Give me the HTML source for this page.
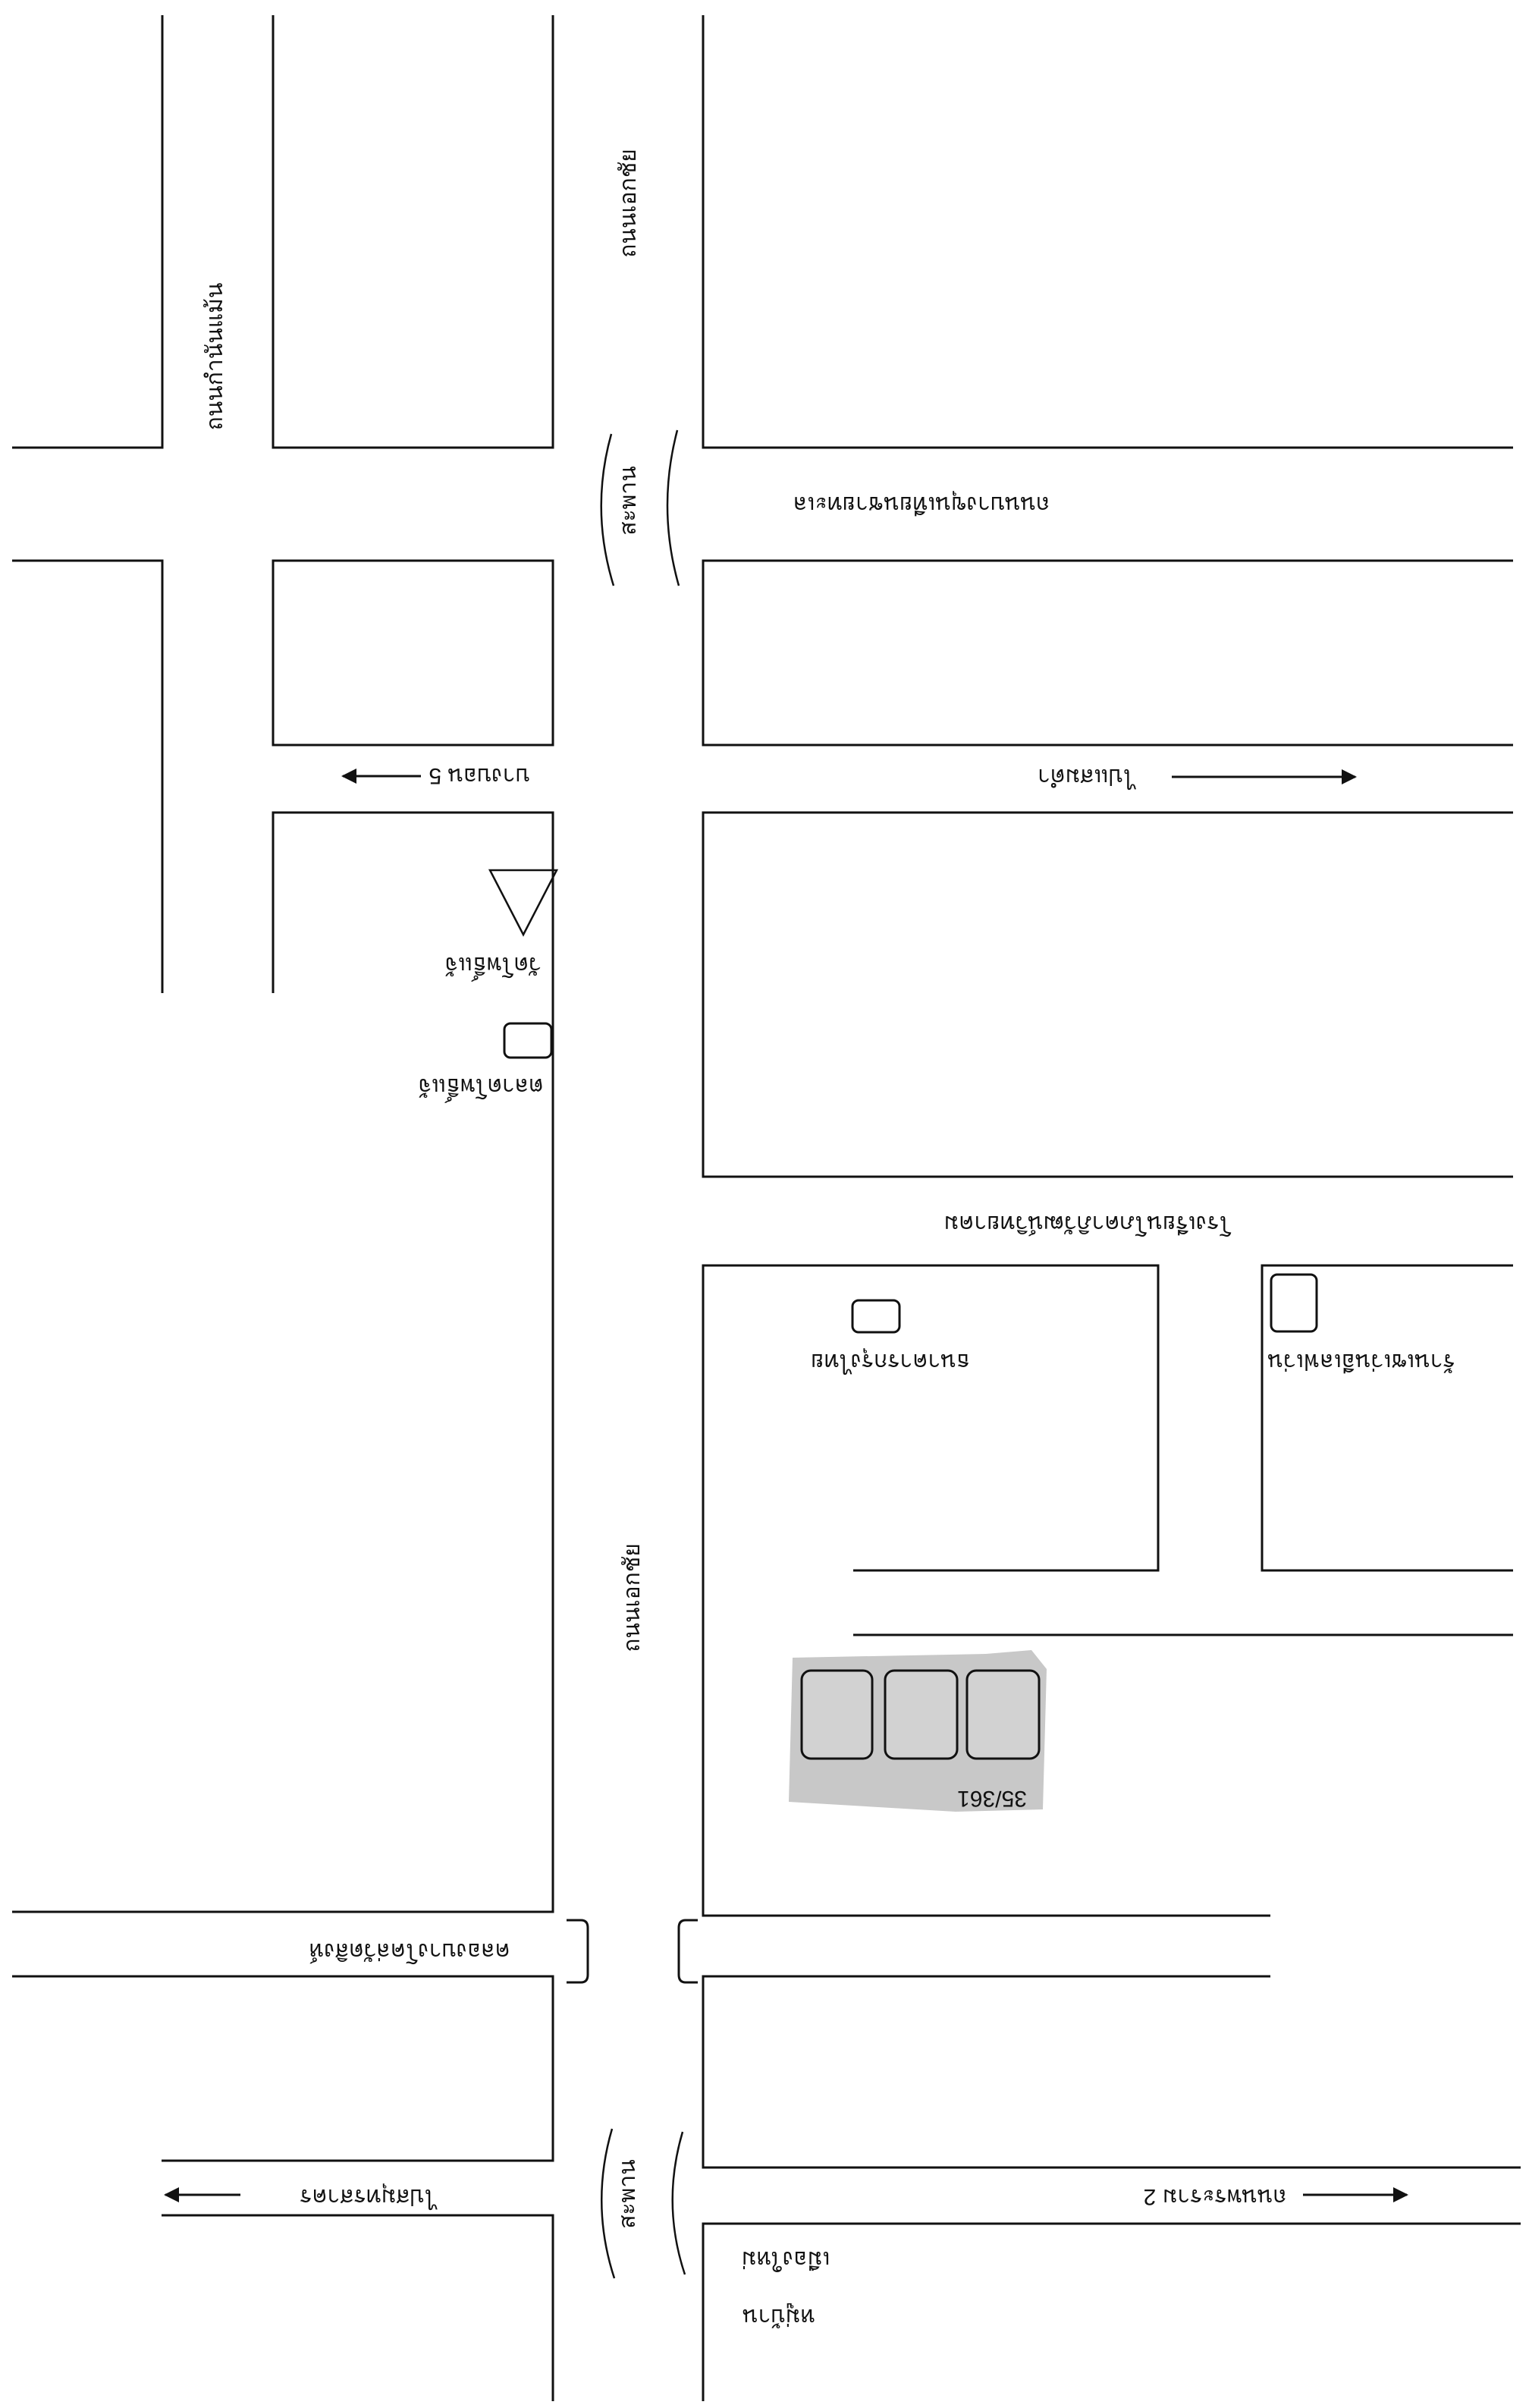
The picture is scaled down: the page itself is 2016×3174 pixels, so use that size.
<!DOCTYPE html>
<html><head><meta charset="utf-8"><style>
html,body{margin:0;padding:0;background:#fff;}
svg{display:block;}
text{font-family:"Liberation Sans","Noto Sans CJK SC",sans-serif;font-size:30px;fill:#111;}
</style></head><body>
<svg width="2016" height="3174" viewBox="0 0 2016 3174" xmlns="http://www.w3.org/2000/svg">
<defs>
<marker id="ah2" viewBox="0 0 10 10" markerWidth="22" markerHeight="20" refX="9" refY="5" orient="auto" markerUnits="userSpaceOnUse"><path d="M0,0 L10,5 L0,10 z" fill="#111"/></marker></defs>
<g stroke="#111" stroke-width="3" fill="none">
<polyline points="214,20 214,590 16,590"/>
<polyline points="16,739 214,739 214,1309"/>
<polyline points="360,20 360,590 729,590 729,20"/>
<rect x="360" y="739" width="369" height="243"/>
<polyline points="360,1309 360,1071 729,1071 729,2520 16,2520"/>
<polyline points="16,2605 729,2605 729,2848 213,2848"/>
<polyline points="213,2920 729,2920 729,3165"/>
<polyline points="927,20 927,590 1995,590"/>
<polyline points="1995,739 927,739 927,982 1995,982"/>
<polyline points="1995,1071 927,1071 927,1551 1995,1551"/>
<polyline points="1125,2070 1527,2070 1527,1668 927,1668 927,2525 1675,2525"/>
<polyline points="1995,1668 1664,1668 1664,2070 1995,2070"/>
<line x1="1125" y1="2155" x2="1995" y2="2155"/>
<polyline points="1675,2605 927,2605 927,2857 2005,2857"/>
<polyline points="2005,2931 927,2931 927,3165"/>
<path d="M806,572 Q778,672 809,772" stroke-width="2.5"/>
<path d="M893,567 Q866,670 895,772" stroke-width="2.5"/>
<path d="M807,2806 Q778,2905 810,3003" stroke-width="2.5"/>
<path d="M900,2810 Q872,2905 903,2998" stroke-width="2.5"/>
<path d="M747,2531 L766,2531 Q775,2531 775,2541 L775,2603 Q775,2613 766,2613 L747,2613"/>
<path d="M920,2531 L904,2531 Q895,2531 895,2541 L895,2603 Q895,2613 904,2613 L920,2613"/>
<path d="M646,1147 L734,1147 L690,1232 Z" stroke-width="2.5"/>
<rect x="665" y="1349" width="62" height="45" rx="8"/>
<rect x="1124" y="1714" width="62" height="42" rx="8"/>
<rect x="1676" y="1680" width="60" height="75" rx="8"/>
<line x1="1545" y1="1024" x2="1787" y2="1024" marker-end="url(#ah2)"/>
<line x1="555" y1="1023" x2="452" y2="1023" marker-end="url(#ah2)"/>
<line x1="317" y1="2893" x2="218" y2="2893" marker-end="url(#ah2)"/>
<line x1="1718" y1="2893" x2="1855" y2="2893" marker-end="url(#ah2)"/>
</g>
<path d="M1045,2185 L1300,2180 L1360,2175 L1380,2200 L1375,2385 L1260,2388 L1040,2375 Z" fill="#c8c8c8"/>
<g stroke="#111" stroke-width="3" fill="#d2d2d2">
<rect x="1057" y="2202" width="93" height="116" rx="12"/>
<rect x="1167" y="2202" width="95" height="116" rx="12"/>
<rect x="1275" y="2202" width="95" height="116" rx="12"/>
</g>
<g text-anchor="middle">
<text transform="translate(1215,665) rotate(180)" dy="10">ถนนบางขุนเทียนชายทะเล</text>
<text transform="translate(1432,1024) rotate(180)" dy="10">ไปแสมดำ</text>
<text transform="translate(632,1023) rotate(180)" dy="10">บางบอน 5</text>
<text transform="translate(650,1272) rotate(180)" dy="10">วัดโพธิ์แจ้</text>
<text transform="translate(634,1432) rotate(180)" dy="10">ตลาดโพธิ์แจ้</text>
<text transform="translate(1434,1613) rotate(180)" dy="10">โรงเรียนโภคาภิวัฒน์วิทยาคม</text>
<text transform="translate(1174,1795) rotate(180)" dy="10">ธนาคารกรุงไทย</text>
<text transform="translate(1795,1795) rotate(180)" dy="10">ร้านเซเว่นอีเลฟเว่น</text>
<text transform="translate(1308,2371) rotate(180)" dy="10">35/361</text>
<text transform="translate(540,2572) rotate(180)" dy="10">คลองบางโคล่วัดสิงห์</text>
<text transform="translate(485,2896) rotate(180)" dy="10">ไปสมุทรสาคร</text>
<text transform="translate(1602,2896) rotate(180)" dy="10">ถนนพระราม 2</text>
<text transform="translate(1036,2978) rotate(180)" dy="10">เมืองใหม่</text>
<text transform="translate(1027,3054) rotate(180)" dy="10">หมู่บ้าน</text>
<text transform="translate(828,268) rotate(-90)" dy="10">ถนนเอกชัย</text>
<text transform="translate(833,2106) rotate(-90)" dy="10">ถนนเอกชัย</text>
<text transform="translate(283,470) rotate(-90)" dy="10">ถนนกำนันแม้น</text>
<text transform="translate(828,660) rotate(-90)" dy="10">สะพาน</text>
<text transform="translate(827,2892) rotate(-90)" dy="10">สะพาน</text>
</g>
</svg>
</body></html>
